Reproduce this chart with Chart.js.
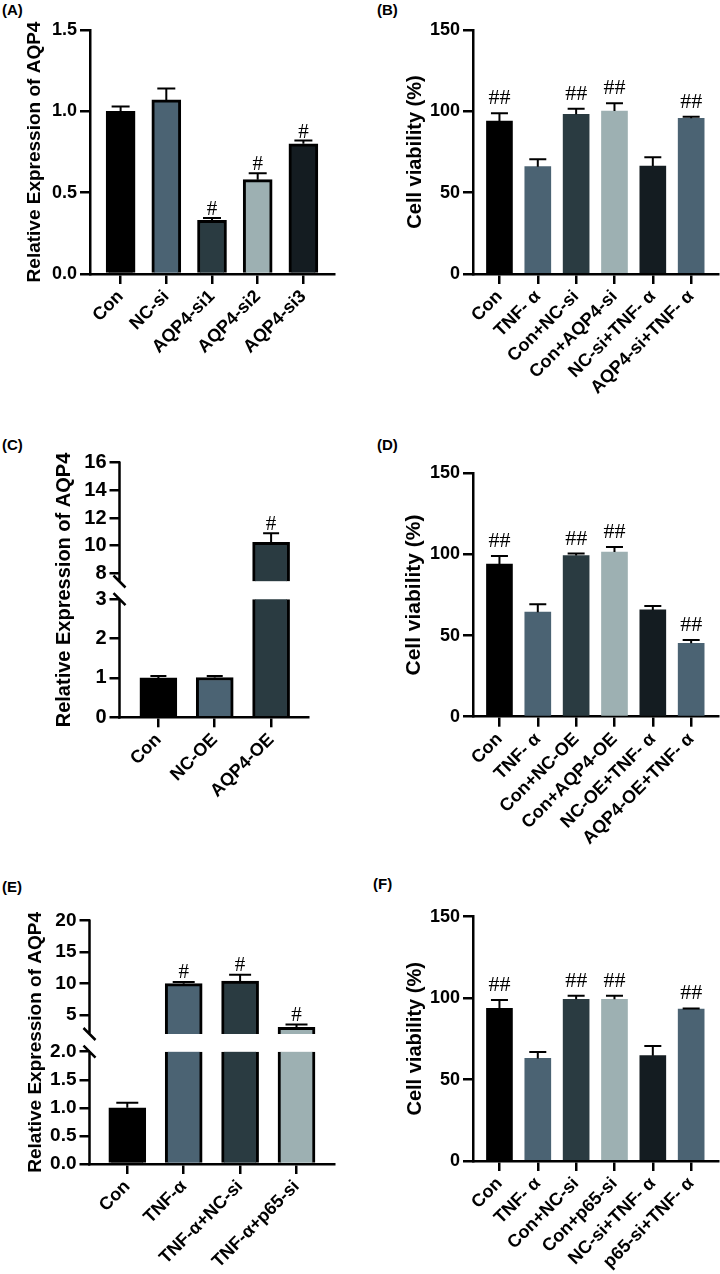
<!DOCTYPE html>
<html>
<head>
<meta charset="utf-8">
<script src="https://cdn.jsdelivr.net/npm/chart.js@4.4.1/dist/chart.umd.min.js"></script>
<style>
  html, body { margin: 0; padding: 0; background: #fff; }
  body { position: relative; width: 720px; height: 1274px; overflow: hidden; font-family: 'Liberation Sans', Arial, sans-serif; }
  canvas { position: absolute; }
  .tag { position: absolute; font-weight: bold; font-size: 15px; line-height: 15px; color: #000; }
</style>
</head>
<body>
<div class="tag" style="left:2px;top:2px">(A)</div>
<div class="tag" style="left:377px;top:2px">(B)</div>
<div class="tag" style="left:2px;top:437px">(C)</div>
<div class="tag" style="left:377px;top:437px">(D)</div>
<div class="tag" style="left:2px;top:879px">(E)</div>
<div class="tag" style="left:373px;top:876px">(F)</div>

<canvas id="chartA" width="360" height="420" style="left:0;top:0"></canvas>
<canvas id="chartB" width="360" height="420" style="left:360px;top:0"></canvas>
<canvas id="chartC" width="360" height="420" style="left:0;top:420px"></canvas>
<canvas id="chartD" width="360" height="430" style="left:360px;top:420px"></canvas>
<canvas id="chartE" width="360" height="434" style="left:0;top:840px"></canvas>
<canvas id="chartF" width="360" height="434" style="left:360px;top:840px"></canvas>

<script>
'use strict';

// ── Data ─────────────────────────────────────────────
// (A) AQP4 expression after knockdown
const catsA  = ['Con', 'NC-si', 'AQP4-si1', 'AQP4-si2', 'AQP4-si3'];
const meanA  = [1.00, 1.07, 0.33, 0.58, 0.80];
const sdA    = [0.03, 0.07, 0.015, 0.04, 0.02];
const sigA   = ['', '', '#', '#', '#'];
const ticksA = [0, 0.5, 1.0, 1.5];

// (B) viability, knockdown
const catsB  = ['Con', 'TNF- α', 'Con+NC-si', 'Con+AQP4-si', 'NC-si+TNF- α', 'AQP4-si+TNF- α'];
const meanB  = [94.0, 66.0, 98.2, 100.2, 66.4, 95.7];
const sdB    = [4.8, 4.5, 3.4, 4.7, 5.3, 1.0];
const sigB   = ['##', '', '##', '##', '', '##'];
const ticksB = [0, 50, 100, 150];

// (C) AQP4 expression after overexpression (broken axis)
const catsC      = ['Con', 'NC-OE', 'AQP4-OE'];
const meanC      = [1.00, 1.01, 10.25];
const sdC        = [0.05, 0.04, 0.65];
const sigC       = ['', '', '#'];
const lowTicksC  = [0, 1, 2, 3];
const highTicksC = [8, 10, 12, 14, 16];

// (D) viability, overexpression
const catsD  = ['Con', 'TNF- α', 'Con+NC-OE', 'Con+AQP4-OE', 'NC-OE+TNF- α', 'AQP4-OE+TNF- α'];
const meanD  = [94.1, 64.4, 99.3, 101.5, 65.8, 45.2];
const sdD    = [4.9, 4.9, 1.2, 3.1, 2.4, 2.1];
const sigD   = ['##', '', '##', '##', '', '##'];
const ticksD = [0, 50, 100, 150];

// (E) AQP4 expression with p65 knockdown (broken axis)
const catsE      = ['Con', 'TNF-α', 'TNF-α+NC-si', 'TNF-α+p65-si'];
const meanE      = [1.00, 10.0, 10.4, 3.05];
const sdE        = [0.09, 0.25, 1.0, 0.45];
const sigE       = ['', '#', '#', '#'];
const lowTicksE  = [0, 0.5, 1.0, 1.5, 2.0];
const highTicksE = [5, 10, 15, 20];

// (F) viability, p65 knockdown
const catsF  = ['Con', 'TNF- α', 'Con+NC-si', 'Con+p65-si', 'NC-si+TNF- α', 'p65-si+TNF- α'];
const meanF  = [93.7, 63.0, 99.3, 99.3, 64.7, 93.3];
const sdF    = [5.1, 3.9, 2.2, 2.2, 5.9, 0.4];
const sigF   = ['##', '', '##', '##', '', '##'];
const ticksF = [0, 50, 100, 150];

// ── Styling ──────────────────────────────────────────
const FONT  = "'Liberation Sans', Arial, sans-serif";
const SERIF = "'Liberation Serif', 'Times New Roman', serif";
const INK   = '#000000';
const BLACK = '#000000', SLATE = '#4b6373', DARK = '#2a3b41', LIGHT = '#9db0b2', NIGHT = '#141c21';
const six   = [BLACK, SLATE, DARK, LIGHT, NIGHT, SLATE];

function xAxis(cats, lo, hi, size, height) {
    return {
        type: 'linear', min: lo, max: hi, offset: false,
        afterBuildTicks: s => { s.ticks = cats.map((c, i) => ({ value: i })); },
        afterFit: s => { s.height = height; },
        border: { display: true, color: INK, width: 2.5 },
        grid: { display: true, offset: false, drawOnChartArea: false, drawTicks: true, tickLength: 10, color: INK, lineWidth: 2.5 },
        ticks: {
            autoSkip: false, minRotation: 45, maxRotation: 45, padding: 2, color: INK,
            font: { family: FONT, size: size, weight: 'bold' },
            callback: v => cats[v]
        }
    };
}

function yAxis(ticks, lo, hi, digits, size, width, extra) {
    return Object.assign({
        type: 'linear', min: lo, max: hi, beginAtZero: false,
        afterBuildTicks: s => { s.ticks = ticks.map(v => ({ value: v })); },
        afterFit: s => { s.width = width; },
        border: { display: true, color: INK, width: 2.5 },
        grid: { drawOnChartArea: false, drawTicks: true, tickLength: 10, color: INK, lineWidth: 2.5 },
        ticks: {
            autoSkip: false, padding: 3, color: INK,
            font: { family: FONT, size: size, weight: 'bold' },
            callback: v => Number(v).toFixed(digits)
        }
    }, extra);
}

// error bars (mean + SD) and significance marks
function errorBars(p) {
    return {
        id: 'errorBars',
        afterDatasetsDraw(chart) {
            const ctx = chart.ctx, xs = chart.scales.x;
            ctx.save();
            ctx.strokeStyle = INK;
            ctx.fillStyle = INK;
            ctx.lineWidth = 2;
            ctx.font = `${p.markSize}px ${SERIF}`;
            ctx.textAlign = 'center';
            ctx.textBaseline = 'alphabetic';
            p.means.forEach((m, i) => {
                const ys = (p.cut !== undefined && m > p.cut) ? chart.scales.yHigh : chart.scales.y;
                const px = xs.getPixelForValue(i);
                const top = ys.getPixelForValue(m);
                const end = ys.getPixelForValue(m + p.sds[i]);
                ctx.beginPath();
                ctx.moveTo(px, top);
                ctx.lineTo(px, end);
                ctx.moveTo(px - p.cap / 2, end);
                ctx.lineTo(px + p.cap / 2, end);
                ctx.stroke();
                if (p.marks[i]) ctx.fillText(p.marks[i], px, end - p.markGap);
            });
            ctx.restore();
        }
    };
}

// split y axis: two line pieces, break marks and a shared title
function brokenAxis(p) {
    return {
        id: 'brokenAxis',
        afterDraw(chart) {
            const ctx = chart.ctx, lo = chart.scales.y, hi = chart.scales.yHigh;
            const ax = chart.chartArea.left;
            const loTop = lo.getPixelForValue(p.cut);
            ctx.save();
            ctx.strokeStyle = INK;
            ctx.lineWidth = 2.5;
            ctx.beginPath();
            ctx.moveTo(ax, hi.top - 1.25);
            ctx.lineTo(ax, hi.bottom);
            ctx.moveTo(ax, loTop);
            ctx.lineTo(ax, lo.bottom + 1.25);
            [hi.bottom, loTop].forEach(y => {
                ctx.moveTo(ax - 6, y - 6);
                ctx.lineTo(ax + 6, y + 6);
            });
            ctx.stroke();

            ctx.fillStyle = INK;
            ctx.font = `bold ${p.titleSize}px ${FONT}`;
            ctx.textAlign = 'center';
            ctx.textBaseline = 'middle';
            ctx.translate(p.titleX, (hi.top + lo.bottom) / 2);
            ctx.rotate(-Math.PI / 2);
            ctx.fillText(p.title, 0, 0);
            ctx.restore();
        }
    };
}

function drawPanel(p) {
    const broken = p.cut !== undefined;
    const base = {
        backgroundColor: p.colors, borderColor: INK,
        barThickness: p.barW, grouped: false, borderSkipped: 'start'
    };
    const datasets = [Object.assign({}, base, {
        yAxisID: 'y',
        borderWidth: ctx => (broken && p.means[ctx.dataIndex] > p.cut)
            ? { left: p.border, right: p.border, top: 0, bottom: 0 } : p.border,
        data: p.means.map((v, i) => ({ x: i, y: broken ? Math.min(v, p.cut) : v }))
    })];
    if (broken) {
        datasets.push(Object.assign({}, base, {
            yAxisID: 'yHigh',
            base: p.highMin,
            borderWidth: p.border,
            data: p.means.map((v, i) => ({ x: i, y: v > p.cut ? v : null }))
        }));
    }

    const scales = { x: xAxis(p.cats, p.xMin, p.xMax, p.labelSize, p.xH) };
    if (broken) {
        scales.y = yAxis(p.lowTicks, 0, p.lowMax, p.lowDigits, p.tickSize, p.yW,
            { stack: 'split', stackWeight: p.lowWeight, border: { display: false } });
        scales.yHigh = yAxis(p.highTicks, p.highMin, p.highMax, p.highDigits, p.tickSize, p.yW,
            { position: 'left', stack: 'split', stackWeight: p.highWeight, border: { display: false } });
    } else {
        scales.y = yAxis(p.ticks, 0, p.yMax, p.digits, p.tickSize, p.yW, {
            title: {
                display: true, text: p.title, color: INK, padding: 0,
                font: { family: FONT, size: p.titleSize, weight: 'bold' }
            }
        });
    }

    const plugins = [errorBars(p)];
    if (broken) plugins.push(brokenAxis(p));

    new Chart(document.getElementById(p.id), {
        type: 'bar',
        data: { datasets },
        options: {
            responsive: false,
            animation: false,
            events: [],
            layout: { padding: { left: p.padL, top: p.padT, right: p.padR, bottom: 0 } },
            plugins: { legend: { display: false }, tooltip: { enabled: false } },
            scales
        },
        plugins
    });
}

const EXPR = 'Relative Expression of AQP4';
const VIAB = 'Cell viability (%)';

drawPanel({
    id: 'chartA', cats: catsA, means: meanA, sds: sdA, marks: sigA,
    colors: [BLACK, SLATE, DARK, LIGHT, NIGHT],
    ticks: ticksA, yMax: 1.5, digits: 1, tickSize: 18,
    title: EXPR, titleSize: 19, labelSize: 18,
    xMin: -0.67, xMax: 4.67, barW: 29, border: 3, cap: 18, markGap: 3, markSize: 21,
    padL: 23, yW: 67, padT: 30, padR: 26, xH: 146
});

drawPanel({
    id: 'chartB', cats: catsB, means: meanB, sds: sdB, marks: sigB, colors: six,
    ticks: ticksB, yMax: 150, digits: 0, tickSize: 18,
    title: VIAB, titleSize: 20, labelSize: 18,
    xMin: -0.69, xMax: 5.70, barW: 26, border: 0, cap: 17, markGap: 9, markSize: 22,
    padL: 43, yW: 70, padT: 30, padR: 2, xH: 146
});

drawPanel({
    id: 'chartC', cats: catsC, means: meanC, sds: sdC, marks: sigC,
    colors: [BLACK, SLATE, DARK],
    lowTicks: lowTicksC, highTicks: highTicksC, lowDigits: 0, highDigits: 0,
    cut: 3, lowMax: 3.45, highMin: 7.41, highMax: 16, lowWeight: 135.8, highWeight: 118.8,
    tickSize: 20, title: EXPR, titleSize: 20, titleX: 64, labelSize: 18,
    xMin: -0.69, xMax: 2.66, barW: 37, border: 3, cap: 16, markGap: 3, markSize: 21,
    padL: 0, yW: 119.5, padT: 42.7, padR: 51.7, xH: 122.7
});

drawPanel({
    id: 'chartD', cats: catsD, means: meanD, sds: sdD, marks: sigD, colors: six,
    ticks: ticksD, yMax: 150, digits: 0, tickSize: 18,
    title: VIAB, titleSize: 21, labelSize: 18,
    xMin: -0.69, xMax: 5.70, barW: 26, border: 0, cap: 17, markGap: 9, markSize: 22,
    padL: 42, yW: 71, padT: 53.3, padR: 2, xH: 133.3
});

drawPanel({
    id: 'chartE', cats: catsE, means: meanE, sds: sdE, marks: sigE,
    colors: [BLACK, SLATE, DARK, LIGHT],
    lowTicks: lowTicksE, highTicks: highTicksE, lowDigits: 1, highDigits: 0,
    cut: 2, lowMax: 2.315, highMin: 2, highMax: 20, lowWeight: 130, highWeight: 113.3,
    tickSize: 19, title: EXPR, titleSize: 19, titleX: 36, labelSize: 18,
    xMin: -0.67, xMax: 3.67, barW: 37, border: 3, cap: 22, markGap: 4, markSize: 21,
    padL: 0, yW: 89.5, padT: 80.7, padR: 25.7, xH: 110
});

drawPanel({
    id: 'chartF', cats: catsF, means: meanF, sds: sdF, marks: sigF, colors: six,
    ticks: ticksF, yMax: 150, digits: 0, tickSize: 18,
    title: VIAB, titleSize: 20, labelSize: 18,
    xMin: -0.69, xMax: 5.70, barW: 26, border: 0, cap: 17, markGap: 9, markSize: 22,
    padL: 43, yW: 70, padT: 76.7, padR: 2, xH: 113
});
</script>
</body>
</html>
